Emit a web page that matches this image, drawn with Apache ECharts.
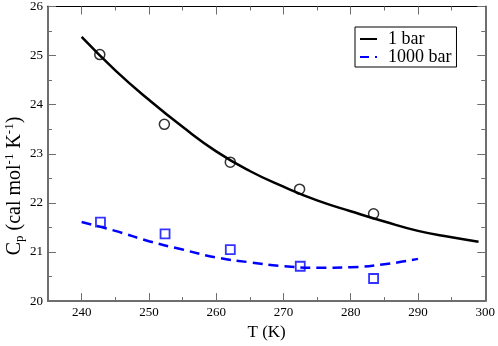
<!DOCTYPE html>
<html>
<head>
<meta charset="utf-8">
<script src="https://cdn.jsdelivr.net/npm/echarts@6/dist/echarts.min.js"></script>
<style>
  html, body { margin: 0; padding: 0; background: #fff; }
  #chart { width: 498px; height: 346px; }
</style>
</head>
<body>
<div id="chart"></div>
<script>
// fitted curves
var fit1T = [240, 245, 250, 255, 260, 265, 270, 275, 280, 285, 290, 295, 299];
var fit1V = [25.38, 24.70, 24.10, 23.55, 23.05, 22.65, 22.33, 22.05, 21.83, 21.62, 21.43, 21.30, 21.21];
var fit1000T = [240, 245, 250, 255, 260, 265, 270, 275, 280, 285, 290];
var fit1000V = [21.61, 21.43, 21.22, 21.05, 20.89, 20.79, 20.71, 20.68, 20.69, 20.75, 20.86];

// measured points
var pts1T = [242.7, 252.3, 262.1, 272.4, 283.4];
var pts1V = [25.02, 23.60, 22.83, 22.28, 21.78];
var pts1000T = [242.8, 252.4, 262.1, 272.5, 283.4];
var pts1000V = [21.61, 21.37, 21.05, 20.71, 20.46];

// ticks
var xMajor = [240, 250, 260, 270, 280, 290, 300];
var xMinor = [245, 255, 265, 275, 285, 295];
var yMajor = [20, 21, 22, 23, 24, 25, 26];
var yMinor = [20.5, 21.5, 22.5, 23.5, 24.5, 25.5];

function zip(a, b) {
    return a.map(function (v, i) { return [v, b[i]]; });
}

var serif = 'Liberation Serif';
var axisGray = '#6e6e6e';

function xAx(pos, ticks, len, showLine, showLabel, lineColor) {
    return {
        type: 'value', position: pos, min: 235, max: 300,
        splitLine: { show: false },
        axisLine: { show: showLine, onZero: false, lineStyle: { color: lineColor, width: pos === 'top' ? 1 : 2 } },
        axisTick: { show: true, inside: true, length: len, customValues: ticks, lineStyle: { color: axisGray, width: 1 } },
        axisLabel: { show: showLabel, customValues: xMajor, fontFamily: serif, fontSize: 13, color: '#000', margin: 5 }
    };
}
function yAx(pos, ticks, len, showLine, showLabel) {
    return {
        type: 'value', position: pos, min: 20, max: 26,
        splitLine: { show: false },
        axisLine: { show: showLine, onZero: false, lineStyle: { color: axisGray, width: 2 } },
        axisTick: { show: true, inside: true, length: len, customValues: ticks, lineStyle: { color: axisGray, width: 1 } },
        axisLabel: { show: showLabel, customValues: yMajor, fontFamily: serif, fontSize: 13, color: '#000', margin: 5 }
    };
}

var xAxes = [
    xAx('bottom', xMajor, 8, true, true, axisGray),
    xAx('bottom', xMinor, 4, false, false, axisGray),
    xAx('top', xMajor, 8, true, false, '#000'),
    xAx('top', xMinor, 4, false, false, '#000')
];
xAxes[0].name = 'T (K)';
xAxes[0].nameLocation = 'middle';
xAxes[0].nameGap = 22;
xAxes[0].nameTextStyle = { fontFamily: serif, fontSize: 17, color: '#000' };

var yAxes = [
    yAx('left', yMajor, 8, true, true),
    yAx('left', yMinor, 4, false, false),
    yAx('right', yMajor, 8, true, false),
    yAx('right', yMinor, 4, false, false)
];

var chart = echarts.init(document.getElementById('chart'));
var option = {
    backgroundColor: '#fff',
    animation: false,
    grid: { left: 48, right: 10, top: 5, bottom: 32 },
    xAxis: xAxes,
    yAxis: yAxes,
    legend: {
        left: 355, top: 27,
        orient: 'vertical',
        itemWidth: 17, itemHeight: 2.5, itemGap: 0,
        padding: [3, 5, 1, 5],
        borderColor: '#000', borderWidth: 1,
        textStyle: { fontFamily: serif, fontSize: 18, color: '#000', lineHeight: 15, padding: [0, 0, 0, 6] },
        data: [
            { name: '1 bar', icon: 'path://M0,0H17V2H0Z' },
            { name: '1000 bar', icon: 'path://M0,0H9V2H0Z M15,0H17V2H15Z' }
        ]
    },
    graphic: [{
        type: 'text', x: 15, y: 186, rotation: Math.PI / 2,
        style: {
            text: 'C{sub|p} (cal mol{sup|-1} K{sup|-1})',
            font: '20px "Liberation Serif"',
            fill: '#000', align: 'center', verticalAlign: 'middle',
            rich: {
                sub: { fontFamily: serif, fontSize: 13, padding: [10, 0, 0, 0] },
                sup: { fontFamily: serif, fontSize: 13, padding: [0, 0, 10, 0] }
            }
        }
    }],
    series: [
        {
            name: '1 bar', type: 'line', data: zip(fit1T, fit1V), smooth: true,
            symbol: 'none', color: '#000', lineStyle: { color: '#000', width: 2.5 }
        },
        {
            name: '1000 bar', type: 'line', data: zip(fit1000T, fit1000V), smooth: true,
            symbol: 'none', color: '#0000ff', lineStyle: { color: '#0000ff', width: 2.5, type: [10, 6] }
        },
        {
            name: 'pts 1 bar', type: 'scatter', data: zip(pts1T, pts1V),
            symbol: 'circle', symbolSize: 10,
            itemStyle: { color: 'rgba(0,0,0,0)', borderColor: '#000', borderWidth: 1.5 }
        },
        {
            name: 'pts 1000 bar', type: 'scatter', data: zip(pts1000T, pts1000V),
            symbol: 'rect', symbolSize: 9,
            itemStyle: { color: 'rgba(0,0,0,0)', borderColor: '#0000ff', borderWidth: 1.8 }
        }
    ]
};
chart.setOption(option);
</script>
</body>
</html>
